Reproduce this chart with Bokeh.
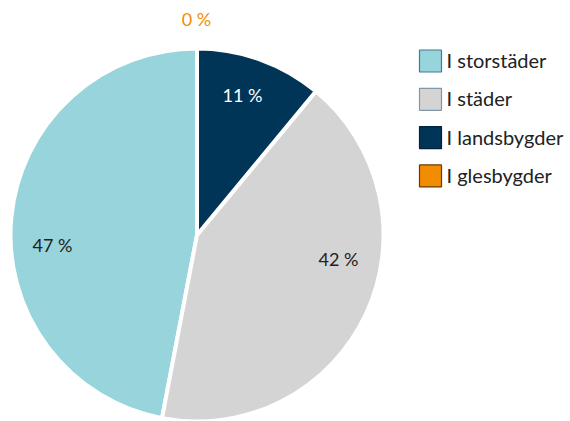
import math
from bokeh.plotting import figure
from bokeh.models import Range1d, ColumnDataSource
from bokeh.core.properties import value
from bokeh.embed import file_html
from bokeh.resources import INLINE

categories = ["I storstäder", "I städer", "I landsbygder", "I glesbygder"]
shares = [47, 42, 11, 0]
labels = ["47 %", "42 %", "11 %", "0 %"]
colors = ["#98D4DC", "#D4D4D4", "#003558", "#F28C00"]
border_colors = ["#3D7F8C", "#7F97AB", "#00223A", "#6B3A00"]
label_colors = ["#222222", "#222222", "#FFFFFF", "#F28C00"]

W, H = 570, 421
FONT = "Lato"

p = figure(width=W, height=H, output_backend="svg", toolbar_location=None,
           x_range=Range1d(0, W), y_range=Range1d(0, H), min_border=0)
p.axis.visible = False
p.grid.visible = False
p.outline_line_color = None

cx, cy, r = 196.5, 186.5, 186.5
total = sum(shares)
starts, ends, wcolors = [], [], []
acc = 0.0
for s, c in zip(shares, colors):
    a0 = math.pi / 2 + 2 * math.pi * acc / total
    acc += s
    a1 = math.pi / 2 + 2 * math.pi * acc / total
    if s > 0:
        starts.append(a0)
        ends.append(a1)
        wcolors.append(c)

src = ColumnDataSource(dict(start=starts, end=ends, color=wcolors))
p.wedge(x=cx, y=cy, radius=r, start_angle="start", end_angle="end",
        fill_color="color", line_color="white", line_width=4, source=src)

# label offsets from pie centre (layout only, in pixels)
label_dx = [-144.5, 141.5, 45.5, -0.5]
label_dy = [-9.5, -23.5, 140.5, 216.5]
p.text(x=[cx + d for d in label_dx], y=[cy + d for d in label_dy], text=labels,
       text_color=label_colors, text_font=value(FONT), text_font_size="18px",
       text_align="center", text_baseline="middle")

# legend
lx, ly0, lstep = 430, 360.5, 38.3
ys = [ly0 - i * lstep for i in range(len(categories))]
p.rect(x=[lx] * len(categories), y=ys, width=22, height=22,
       fill_color=colors, line_color=border_colors, line_width=1.2)
p.text(x=[lx + 16] * len(categories), y=[y + 1 for y in ys], text=categories,
       text_color="#222222", text_font=value(FONT), text_font_size="20px",
       text_align="left", text_baseline="middle")

open("out.html", "w").write(file_html(p, INLINE))
